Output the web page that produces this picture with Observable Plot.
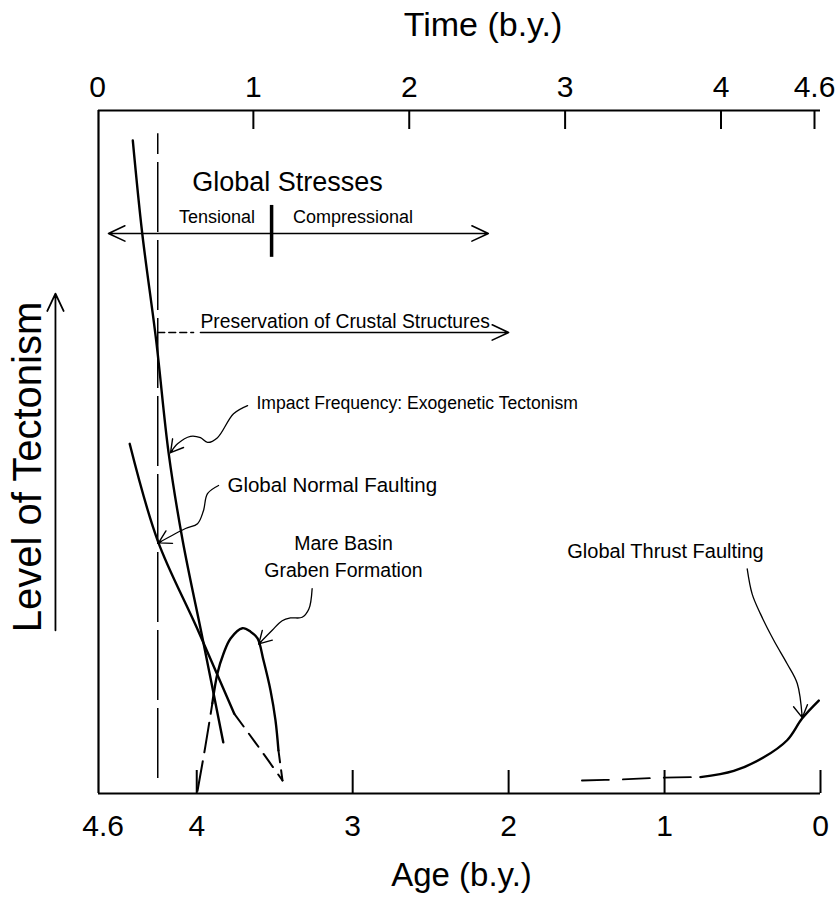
<!DOCTYPE html>
<html><head><meta charset="utf-8">
<script src="https://cdn.jsdelivr.net/npm/d3@7"></script>
<script src="https://cdn.jsdelivr.net/npm/@observablehq/plot@0.6"></script>
<style>
html,body{margin:0;padding:0;background:#fff;}
#chart{position:relative;width:837px;height:899px;}
#chart svg{position:absolute;left:0;top:0;}
</style></head><body><div id="chart"></div>
<script>
// ---- axes ----
const ageDomain = [4.63, 0];
const levelDomain = [0, 100];
const timeDomain = [0, 4.6];
const ageTicks = [4.6, 4, 3, 2, 1, 0];
const ageTickLabels = ["4.6", "4", "3", "2", "1", "0"];
const ageTickMarks = [4, 3, 2, 1, 0];
const timeTicks = [0, 1, 2, 3, 4, 4.6];
const timeTickLabels = ["0", "1", "2", "3", "4", "4.6"];
const timeTickMarks = [1, 2, 3, 4, 4.6];
const xTitle = "Age (b.y.)";
const topTitle = "Time (b.y.)";
const yTitle = "Level of Tectonism";

// ---- curves (age in b.y., relative level 0-100) ----
const impactAge = [4.41, 4.35, 4.26, 4.18, 4.09, 3.96, 3.83];
const impactLevel = [95.6, 82.1, 66.3, 49.8, 37.0, 22.4, 7.5];
const normalAge = [4.43, 4.25, 4.00, 3.76];
const normalLevel = [51.2, 37.0, 24.3, 11.7];
const normalFadeAge = [3.76, 3.60, 3.45];
const normalFadeLevel = [11.7, 6.7, 1.9];
const mareAge = [3.90, 3.867, 3.828, 3.783, 3.707, 3.655, 3.61, 3.572, 3.527, 3.495, 3.476];
const mareLevel = [13.2, 17.6, 20.5, 22.7, 24.2, 23.7, 22.7, 19.5, 15.1, 10.7, 6.3];
const mareRiseAge = [3.995, 3.944, 3.90];
const mareRiseLevel = [0.4, 7.0, 13.2];
const mareFallAge = [3.476, 3.45];
const mareFallLevel = [6.3, 1.9];
const thrustFaintAge = [1.53, 1.28, 1.03, 0.77];
const thrustFaintLevel = [1.9, 2.05, 2.3, 2.4];
const thrustAge = [0.77, 0.556, 0.364, 0.214, 0.117, 0.011];
const thrustLevel = [2.4, 3.3, 5.3, 7.8, 11.0, 13.6];

// ---- markers ----
const markerAge = 4.25;
const markerLevel = [2.2, 96.6];
const stressLevel = 82.0;
const stressLeftAge = 4.566, stressRightAge = 2.13, stressDivideAge = 3.52;
const stressDivideLevel = [78.5, 86.1];
const preserveLevel = 67.5;
const preserveDashAge = [4.25, 4.02];
const preserveArrowAge = [3.976, 2.0];
const levelArrowAge = 4.906;
const levelArrowLevel = [23.9, 73.2];

// ---- pointer arrows ----
const impactPointerAge = [3.674, 3.764, 3.867, 3.931, 3.976, 4.04, 4.123, 4.168];
const impactPointerLevel = [56.8, 55.6, 52.1, 51.4, 52.1, 52.3, 51.2, 49.9];
const normalPointerAge = [3.86, 3.931, 3.957, 3.995, 4.072, 4.245];
const normalPointerLevel = [45.1, 43.9, 41.4, 39.5, 38.8, 36.7];
const marePointerAge = [3.26, 3.281, 3.324, 3.399, 3.452, 3.516, 3.602];
const marePointerLevel = [30.0, 27.0, 25.8, 25.7, 25.3, 23.9, 21.9];
const thrustPointerAge = [0.47, 0.438, 0.385, 0.299, 0.214, 0.149, 0.117];
const thrustPointerLevel = [32.9, 29.2, 26.3, 22.4, 19.0, 16.1, 11.1];

// ---- labels ----
const labelText = ["Global Stresses", "Tensional", "Compressional", "Mare Basin", "Graben Formation", "Global Thrust Faulting"];
const labelAge = [3.418, 3.87, 2.998, 3.059, 3.059, 0.994];
const labelLevel = [89.5, 84.3, 84.3, 36.5, 32.6, 35.4];
const labelSize = [27, 18, 18, 19.5, 19.5, 20];
const startText = ["Preservation of Crustal Structures", "Impact Frequency: Exogenetic Tectonism", "Global Normal Faulting"];
const startAge = [3.976, 3.617, 3.803];
const startLevel = [69.0, 57.1, 45.1];
const startSize = [19.3, 17.6, 20.5];

const W = 837, H = 899, mL = 98, mR = 17, mT = 110, mB = 106;
const rows = (ages, levels) => ages.map((age, i) => ({age, level: levels[i]}));
const font = "'Liberation Sans', Arial, sans-serif";

// same scales as the main plot, used to orient the pointer arrowheads
const sx = Plot.scale({x: {domain: ageDomain, range: [mL, W - mR]}});
const sy = Plot.scale({y: {domain: levelDomain, range: [H - mB, mT]}});

function pointer(ages, levels) {
  const n = ages.length;
  const tx = sx.apply(ages[n - 1]), ty = sy.apply(levels[n - 1]);
  const px = sx.apply(ages[n - 2]), py = sy.apply(levels[n - 2]);
  const d = Math.hypot(tx - px, ty - py);
  const L = 48;
  const bx = tx + (px - tx) * L / d, by = ty + (py - ty) * L / d;
  return [
    Plot.line(rows(ages, levels), {x: "age", y: "level", curve: "catmull-rom", strokeWidth: 1.3}),
    Plot.arrow([{x1: sx.invert(bx), y1: sy.invert(by), x2: ages[n - 1], y2: levels[n - 1]}],
      {x1: "x1", y1: "y1", x2: "x2", y2: "y2", insetStart: L - 3, headLength: 15, headAngle: 60, strokeWidth: 1.4})
  ];
}

const main = Plot.plot({
  width: W, height: H,
  marginLeft: mL, marginRight: mR, marginTop: mT, marginBottom: mB,
  x: {domain: ageDomain, axis: null},
  y: {domain: levelDomain, axis: null},
  style: {fontFamily: font, background: "white", overflow: "visible", color: "black"},
  marks: [
    Plot.ruleX([ageDomain[0]], {strokeWidth: 2.2}),
    Plot.ruleY([levelDomain[0]], {strokeWidth: 2.2}),
    Plot.ruleY([levelDomain[1]], {strokeWidth: 2.2}),
    Plot.axisX(ageTickMarks, {anchor: "bottom", tickSize: -23, strokeWidth: 2, tickFormat: () => "", label: null}),
    Plot.axisX(ageTicks, {anchor: "bottom", tickSize: 0, tickPadding: 21, fontSize: 30, tickFormat: (d, i) => ageTickLabels[i], label: null}),
    Plot.text([xTitle], {text: d => d, frameAnchor: "bottom", dx: 2, dy: 92, lineAnchor: "bottom", fontSize: 33}),
    Plot.text([yTitle], {text: d => d, frameAnchor: "left", textAnchor: "middle", rotate: -90, dx: -70, dy: 15, fontSize: 40}),
    Plot.arrow([{x1: levelArrowAge, y1: levelArrowLevel[0], x2: levelArrowAge, y2: levelArrowLevel[1]}],
      {x1: "x1", y1: "y1", x2: "x2", y2: "y2", strokeWidth: 1.8, headLength: 16, headAngle: 50}),
    // vertical dashed marker
    Plot.ruleX([markerAge], {y1: markerLevel[0], y2: markerLevel[1], strokeWidth: 1.5, strokeDasharray: "70,8"}),
    // global stresses
    Plot.arrow([{x1: stressDivideAge, x2: stressLeftAge}, {x1: stressDivideAge, x2: stressRightAge}],
      {x1: "x1", x2: "x2", y1: () => stressLevel, y2: () => stressLevel, strokeWidth: 1.6, headLength: 17, headAngle: 50}),
    Plot.ruleX([stressDivideAge], {y1: stressDivideLevel[0], y2: stressDivideLevel[1], strokeWidth: 3.5}),
    // preservation
    Plot.line(rows(preserveDashAge, preserveDashAge.map(() => preserveLevel)), {x: "age", y: "level", strokeWidth: 1.4, strokeDasharray: "7,4"}),
    Plot.arrow([{x1: preserveArrowAge[0], x2: preserveArrowAge[1]}],
      {x1: "x1", x2: "x2", y1: () => preserveLevel, y2: () => preserveLevel, strokeWidth: 1.6, headLength: 17, headAngle: 50}),
    // curves
    Plot.line(rows(impactAge, impactLevel), {x: "age", y: "level", curve: "catmull-rom", strokeWidth: 2.4}),
    Plot.line(rows(normalAge, normalLevel), {x: "age", y: "level", curve: "catmull-rom", strokeWidth: 2.4}),
    Plot.line(rows(normalFadeAge, normalFadeLevel), {x: "age", y: "level", curve: "catmull-rom", strokeWidth: 2, strokeDasharray: "16,9"}),
    Plot.line(rows(mareAge, mareLevel), {x: "age", y: "level", curve: "catmull-rom", strokeWidth: 2.4}),
    Plot.line(rows(mareRiseAge, mareRiseLevel), {x: "age", y: "level", curve: "catmull-rom", strokeWidth: 2, strokeDasharray: "30,9"}),
    Plot.line(rows(mareFallAge, mareFallLevel), {x: "age", y: "level", curve: "catmull-rom", strokeWidth: 2, strokeDasharray: "12,8"}),
    Plot.line(rows(thrustFaintAge, thrustFaintLevel), {x: "age", y: "level", curve: "catmull-rom", strokeWidth: 1.8, strokeDasharray: "27,14"}),
    Plot.line(rows(thrustAge, thrustLevel), {x: "age", y: "level", curve: "catmull-rom", strokeWidth: 2.4}),
    // pointers
    ...pointer(impactPointerAge, impactPointerLevel),
    ...pointer(normalPointerAge, normalPointerLevel),
    ...pointer(marePointerAge, marePointerLevel),
    ...pointer(thrustPointerAge, thrustPointerLevel),
    // labels
    Plot.text(labelText, {x: (d, i) => labelAge[i], y: (d, i) => labelLevel[i], text: d => d, fontSize: (d, i) => labelSize[i], textAnchor: "middle"}),
    Plot.text(startText, {x: (d, i) => startAge[i], y: (d, i) => startLevel[i], text: d => d, fontSize: (d, i) => startSize[i], textAnchor: "start"})
  ]
});

const topAxis = Plot.plot({
  width: W, height: 140,
  marginLeft: 97, marginRight: 23, marginTop: mT, marginBottom: 0,
  x: {domain: timeDomain, axis: null},
  style: {fontFamily: font, background: "transparent", overflow: "visible", color: "black"},
  marks: [
    Plot.axisX(timeTickMarks, {anchor: "top", tickSize: -18, strokeWidth: 2, tickFormat: () => "", label: null}),
    Plot.axisX(timeTicks, {anchor: "top", tickSize: 0, tickPadding: 14, fontSize: 30, tickFormat: (d, i) => timeTickLabels[i], label: null}),
    Plot.text([topTitle], {text: d => d, frameAnchor: "top", dx: 27, dy: -75, lineAnchor: "bottom", fontSize: 34})
  ]
});

const chart = document.getElementById("chart");
chart.appendChild(main);
chart.appendChild(topAxis);
</script>
</body></html>
